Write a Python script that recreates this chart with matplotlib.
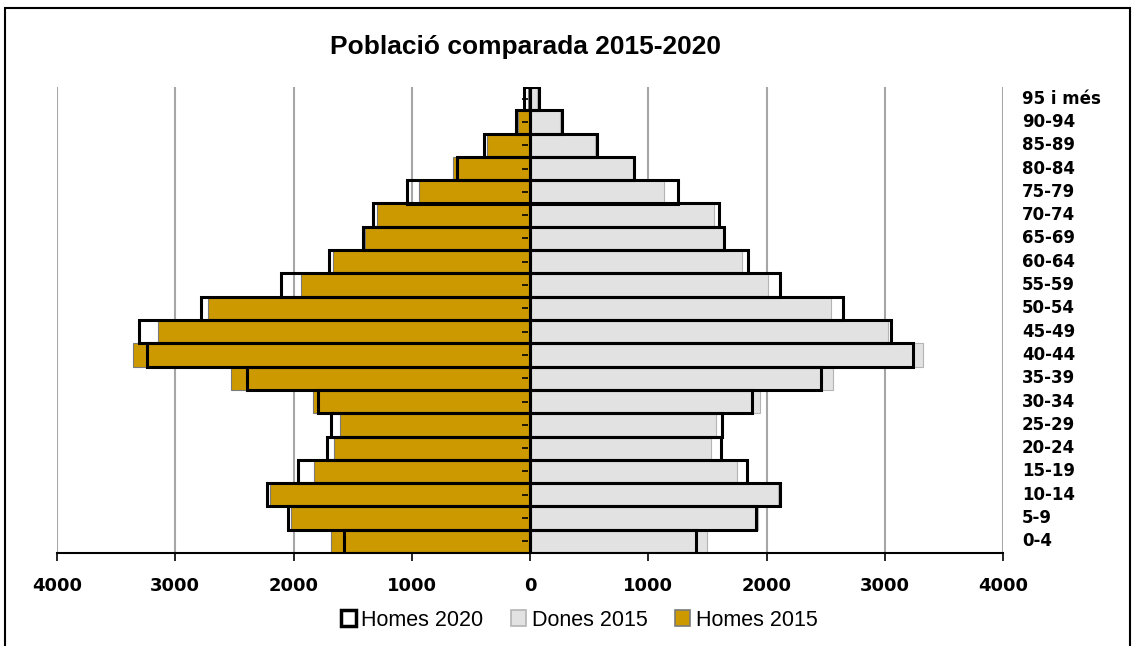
import matplotlib
matplotlib.use('Agg')
import matplotlib.pyplot as plt
import numpy as np
from matplotlib.patches import Rectangle, Patch

plt.rcParams['font.family'] = ['Liberation Sans', 'DejaVu Sans']

# grups d'edat, de baix a dalt
edats = ['0-4', '5-9', '10-14', '15-19', '20-24', '25-29', '30-34', '35-39',
         '40-44', '45-49', '50-54', '55-59', '60-64', '65-69', '70-74',
         '75-79', '80-84', '85-89', '90-94', '95 i més']

homes_2015 = [1683, 2021, 2199, 1827, 1658, 1607, 1835, 2528, 3357, 3146,
              2723, 1937, 1665, 1395, 1295, 940, 650, 365, 100, 20]
homes_2020 = [1573, 2046, 2224, 1962, 1717, 1683, 1793, 2393, 3239, 3307,
              2782, 2105, 1700, 1412, 1327, 1040, 617, 390, 120, 50]
dones_2015 = [1497, 1930, 2095, 1750, 1530, 1575, 1945, 2565, 3325, 3030,
              2545, 2010, 1790, 1630, 1558, 1135, 870, 550, 250, 55]
dones_2020 = [1404, 1910, 2115, 1833, 1612, 1625, 1875, 2460, 3240, 3053,
              2647, 2115, 1845, 1640, 1600, 1252, 880, 567, 270, 80]

W, H = 1138, 646
fig = plt.figure(figsize=(W / 100, H / 100), dpi=100)
ax = fig.add_axes([57 / W, (H - 553) / H, 946 / W, 466 / H])

y = np.arange(len(edats))
or_color = '#CC9900'
gris = '#E2E2E2'

ax.barh(y, -np.array(homes_2015), height=1.0, color=or_color,
        edgecolor='#7a7a7a', linewidth=0.8, zorder=2)
ax.barh(y, dones_2015, height=1.0, color=gris,
        edgecolor='#b4b4b4', linewidth=0.8, zorder=2)
ax.barh(y, -np.array(homes_2020), height=1.0, fill=False,
        edgecolor='black', linewidth=2.2, zorder=3)
ax.barh(y, dones_2020, height=1.0, fill=False,
        edgecolor='black', linewidth=2.2, zorder=3)

# eix central amb marques
ax.axvline(0, color='black', linewidth=2, zorder=4)
ax.plot(np.zeros(len(y)) - 15, y, linestyle='none', marker=0,
        markersize=4, color='black', markeredgewidth=1.2, zorder=4)

ax.set_xlim(-4000, 4000)
ax.set_ylim(-0.5, len(edats) - 0.5)
ticks = np.arange(-4000, 4001, 1000)
ax.set_xticks(ticks)
ax.set_xticklabels([str(abs(t)) for t in ticks], fontsize=13,
                   fontweight='bold', family='DejaVu Sans')
ax.tick_params(axis='x', direction='out', length=6, width=1.2, pad=11.5)
ax.set_yticks([])
for t in ticks:
    if t != 0:
        ax.axvline(t, color='#a6a6a6', linewidth=1.5, zorder=1)

for s in ['top', 'left', 'right']:
    ax.spines[s].set_visible(False)
ax.spines['bottom'].set_linewidth(1.5)

trans = ax.get_yaxis_transform()
for i, e in enumerate(edats):
    ax.text(1.02, i, e, transform=trans, ha='left', va='center',
            fontsize=12, fontweight='bold', family='DejaVu Sans')

fig.text(526 / W, 1 - 47 / H, 'Població comparada 2015-2020', ha='center',
         va='center', fontsize=19, fontweight='bold')

handles = [Patch(facecolor='white', edgecolor='black', linewidth=2.5),
           Patch(facecolor=gris, edgecolor='#b4b4b4', linewidth=1.2),
           Patch(facecolor=or_color, edgecolor='#7a7a7a', linewidth=1.2)]
fig.legend(handles, ['Homes 2020', 'Dones 2015', 'Homes 2015'],
           loc='center', bbox_to_anchor=(579 / W, 1 - 620 / H), ncol=3,
           frameon=False, fontsize=15.5, handlelength=0.7, handleheight=0.7,
           handletextpad=0.25, columnspacing=1.3)

# marc exterior
fig.patches.append(Rectangle((5 / W, -0.05), 1125 / W, 1.05 - 8 / H,
                             transform=fig.transFigure, fill=False,
                             edgecolor='black', linewidth=1.5))

fig.savefig('out.png', dpi=100)
